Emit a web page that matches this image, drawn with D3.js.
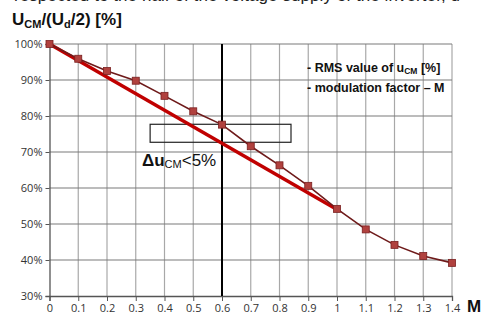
<!DOCTYPE html>
<html>
<head>
<meta charset="utf-8">
<script src="https://cdn.jsdelivr.net/npm/d3@7"></script>
<style>
  body { margin: 0; background: #fff; }
  svg { display: block; }
</style>
</head>
<body>
<div class="chart"></div>
<script>
(function () {

	// M values and RMS value of u_CM [%]
	var mValues = [0, 0.1, 0.2, 0.3, 0.4, 0.5, 0.6, 0.7, 0.8, 0.9, 1, 1.1, 1.2, 1.3, 1.4];
	var rmsValues = [100, 95.9, 92.5, 89.8, 85.6, 81.3, 77.6, 71.6, 66.3, 60.6, 54.2, 48.5, 44.2, 41.1, 39.2];
	// straight red line (modulation factor)
	var lineX = [0, 1];
	var lineY = [100, 54];
	var xTicks = [0, 0.1, 0.2, 0.3, 0.4, 0.5, 0.6, 0.7, 0.8, 0.9, 1, 1.1, 1.2, 1.3, 1.4];
	var yTicks = [30, 40, 50, 60, 70, 80, 90, 100];
	// tolerance box
	var boxX = [0.35, 0.84];
	var boxY = [72.7, 77.7];

	var width = 481, height = 316;
	var margin = {top: 44, right: 29, bottom: 20, left: 49.5};

	var svg = d3.select(".chart").append("svg")
		.attr("width", width)
		.attr("height", height);

	var x = d3.scaleLinear().domain([0, 1.4]).range([margin.left, width - margin.right]);
	var y = d3.scaleLinear().domain([30, 100]).range([height - margin.bottom, margin.top]);

	// cut-off caption line at the very top (only its lower part is visible)
	svg.append("text")
		.attr("x", 14).attr("y", 1)
		.style("font-family", "Liberation Sans, Arial, sans-serif")
		.style("font-size", "17px")
		.style("fill", "#222")
		.attr("textLength", 446)
		.text("respected to the half of the voltage supply of the inverter, u");

	// vertical grid
	svg.append("g").selectAll("line")
		.data(xTicks.slice(1))
		.enter().append("line")
		.attr("x1", function(d) { return x(d); })
		.attr("x2", function(d) { return x(d); })
		.attr("y1", y(100)).attr("y2", y(30))
		.attr("stroke", "#a8a8a8")
		.attr("stroke-width", 1.2);

	// horizontal grid
	svg.append("g").selectAll("line")
		.data(yTicks.slice(1))
		.enter().append("line")
		.attr("x1", x(0)).attr("x2", x(1.4))
		.attr("y1", function(d) { return y(d); })
		.attr("y2", function(d) { return y(d); })
		.attr("stroke", "#7a7a7a")
		.attr("stroke-width", 1.2);

	// axes
	var xAxis = d3.axisBottom(x).tickValues(xTicks).tickSize(5)
		.tickFormat(function(d) { return d3.format("")(d); });
	var gx = svg.append("g")
		.attr("transform", "translate(0," + y(30) + ")")
		.call(xAxis);
	gx.select(".domain").attr("stroke", "#555").attr("stroke-width", 1.3);
	gx.selectAll(".tick line").attr("stroke", "#555");
	gx.selectAll("text")
		.attr("y", 8)
		.attr("dy", "0.71em")
		.style("font-family", "Open Sans, sans-serif")
		.style("font-size", "11px")
		.style("fill", "#333");

	var yAxis = d3.axisLeft(y).tickValues(yTicks).tickSize(4)
		.tickFormat(function(d) { return d + "%"; });
	var gy = svg.append("g")
		.attr("transform", "translate(" + x(0) + ",0)")
		.call(yAxis);
	gy.select(".domain").attr("stroke", "#555").attr("stroke-width", 1.3);
	gy.selectAll(".tick line").attr("stroke", "#555");
	gy.selectAll("text")
		.attr("x", -7)
		.style("font-family", "Open Sans, sans-serif")
		.style("font-size", "11px")
		.style("fill", "#333");

	// black line at M = 0.6
	svg.append("line")
		.attr("x1", x(0.6)).attr("x2", x(0.6))
		.attr("y1", y(100)).attr("y2", y(30))
		.attr("stroke", "#000")
		.attr("stroke-width", 2);

	// tolerance box
	svg.append("rect")
		.attr("x", x(boxX[0]))
		.attr("y", y(boxY[1]))
		.attr("width", x(boxX[1]) - x(boxX[0]))
		.attr("height", y(boxY[0]) - y(boxY[1]))
		.attr("fill", "none")
		.attr("stroke", "#222")
		.attr("stroke-width", 1.2);

	// red straight line
	svg.append("path")
		.datum(d3.zip(lineX, lineY))
		.attr("d", d3.line()
			.x(function(d) { return x(d[0]); })
			.y(function(d) { return y(d[1]); }))
		.attr("fill", "none")
		.attr("stroke", "#c00000")
		.attr("stroke-width", 3.5);

	// RMS series
	var rms = d3.zip(mValues, rmsValues);
	svg.append("path")
		.datum(rms)
		.attr("d", d3.line()
			.x(function(d) { return x(d[0]); })
			.y(function(d) { return y(d[1]); }))
		.attr("fill", "none")
		.attr("stroke", "#6e1a1a")
		.attr("stroke-width", 1.6);

	svg.append("g").selectAll("rect")
		.data(rms)
		.enter().append("rect")
		.attr("x", function(d) { return x(d[0]) - 3.5; })
		.attr("y", function(d) { return y(d[1]) - 3.5; })
		.attr("width", 7).attr("height", 7)
		.attr("fill", "#b0413e")
		.attr("stroke", "#7a2020")
		.attr("stroke-width", 0.8);

	// title
	var title = svg.append("text")
		.attr("x", 12).attr("y", 25)
		.style("font-family", "Liberation Sans, Arial, sans-serif")
		.style("font-size", "17px")
		.style("font-weight", "bold")
		.style("fill", "#111");
	title.append("tspan").text("U");
	title.append("tspan").attr("dy", 3).style("font-size", "11px").text("CM");
	title.append("tspan").attr("dy", -3).text("/(U");
	title.append("tspan").attr("dy", 3).style("font-size", "11px").text("d");
	title.append("tspan").attr("dy", -3).text("/2) [%]");

	// legend text
	var legFont = "Liberation Sans Narrow, Liberation Sans, Arial, sans-serif";
	var l1 = svg.append("text")
		.attr("x", 307).attr("y", 72)
		.style("font-family", legFont)
		.style("font-size", "12.5px")
		.style("font-weight", "bold")
		.style("fill", "#111");
	l1.append("tspan").text("- RMS value of u");
	l1.append("tspan").attr("dy", 2).style("font-size", "8.5px").text("CM");
	l1.append("tspan").attr("dy", -2).text(" [%]");

	svg.append("text")
		.attr("x", 307).attr("y", 92)
		.style("font-family", legFont)
		.style("font-size", "12.5px")
		.style("font-weight", "bold")
		.style("fill", "#111")
		.text("- modulation factor \u2013 M");

	// delta annotation
	var dl = svg.append("text")
		.attr("x", 142).attr("y", 166)
		.style("font-family", "Liberation Sans, Arial, sans-serif")
		.style("font-size", "17px")
		.style("fill", "#111");
	dl.append("tspan").style("font-weight", "bold").text("\u0394u");
	dl.append("tspan").attr("dy", 2).style("font-size", "11px").text("CM");
	dl.append("tspan").attr("dy", -2).text("<5%");

	// axis name
	svg.append("text")
		.attr("x", 467).attr("y", 312)
		.style("font-family", "Liberation Sans, Arial, sans-serif")
		.style("font-size", "17px")
		.style("font-weight", "bold")
		.style("fill", "#111")
		.text("M");

})();
</script>
</body>
</html>
